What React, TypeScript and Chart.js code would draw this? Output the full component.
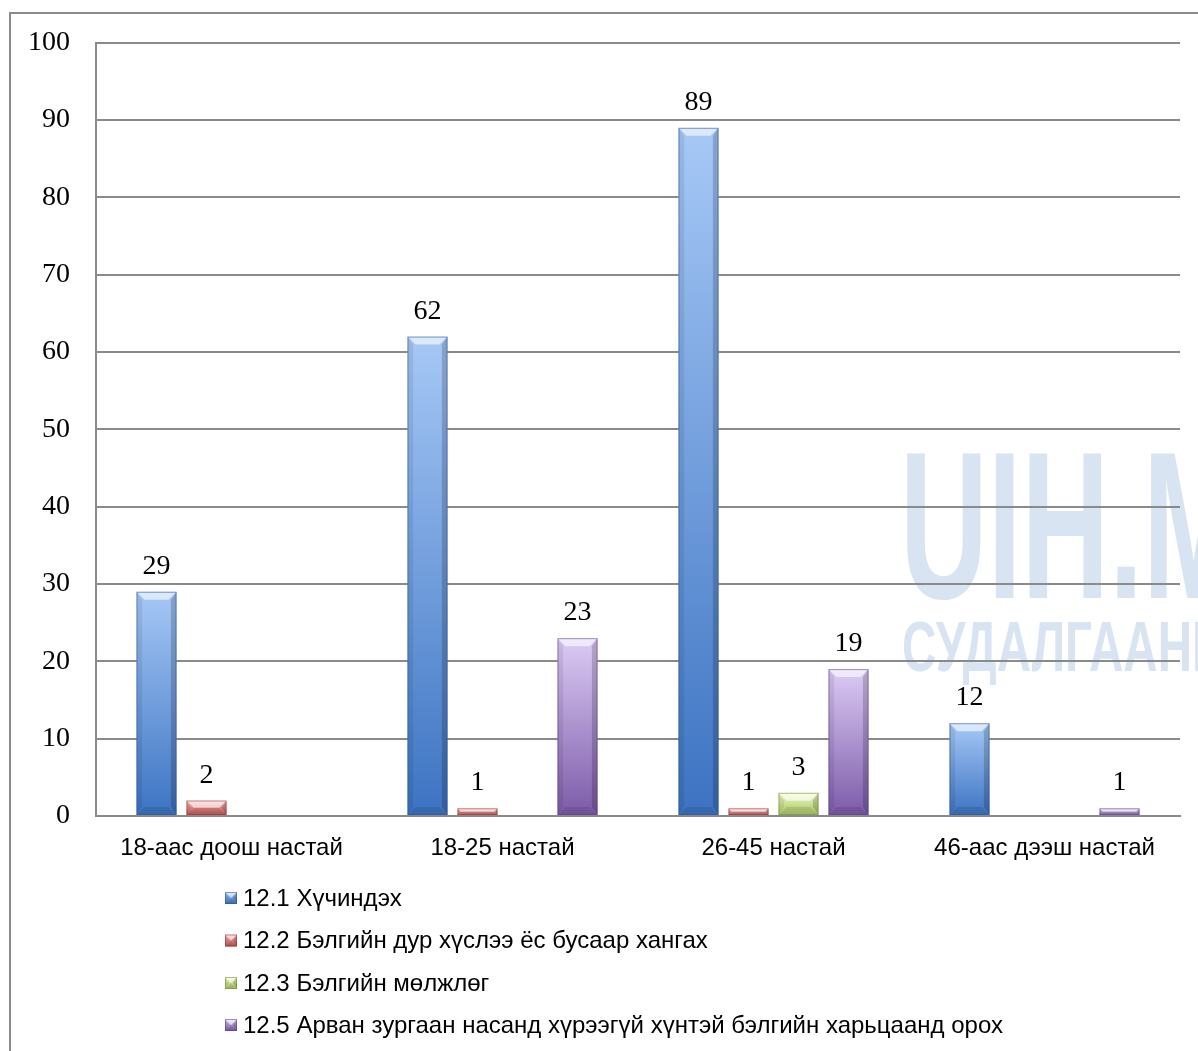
import React, { useEffect, useRef } from 'react';
import { Chart, registerables } from 'chart.js';

Chart.register(...registerables);

const categories = ['18-аас доош настай', '18-25 настай', '26-45 настай', '46-аас дээш настай'];
const seriesNames = [
  '12.1 Хүчиндэх',
  '12.2 Бэлгийн дур хүслээ ёс бусаар хангах',
  '12.3 Бэлгийн мөлжлөг',
  '12.5 Арван зургаан насанд хүрээгүй хүнтэй бэлгийн харьцаанд орох',
];
const s121 = [29, 62, 89, 12];
const s122 = [2, 1, 1, null];
const s123 = [null, null, 3, null];
const s125 = [null, 23, 19, 1];
const yMin = 0;
const yMax = 100;
const yStep = 10;
const watermark1 = 'UIH.M';
const watermark2 = 'СУДАЛГААНЫ';

const palettes = [
  { light: '#a6c8f6', base: '#3c73c2', dark: '#2d5a96' },
  { light: '#f6bcbb', base: '#c0504d', dark: '#923a38' },
  { light: '#eef8c0', base: '#a8c562', dark: '#718c3a' },
  { light: '#dccbf5', base: '#7b5aa8', dark: '#5b4384' },
];

const SERIF = "'Liberation Serif', 'DejaVu Serif', serif";
const SANS = "'Liberation Sans', Arial, sans-serif";
const GRID = '#8a8a8a';

function makeGradient(ctx: any, pal: any) {
  const chart = ctx.chart;
  const v = ctx.raw;
  if (v == null || !chart.chartArea || !chart.scales.y) return pal.base;
  const y = chart.scales.y;
  const top = y.getPixelForValue(v);
  const bottom = y.getPixelForValue(0);
  if (!isFinite(top) || !isFinite(bottom) || bottom - top < 0.5) return pal.base;
  const g = chart.ctx.createLinearGradient(0, top, 0, bottom);
  g.addColorStop(0, pal.light);
  g.addColorStop(1, pal.base);
  return g;
}

const backgroundPlugin = {
  id: 'bgFrame',
  beforeDraw(chart: any) {
    const c = chart.ctx;
    c.save();
    c.fillStyle = '#ffffff';
    c.fillRect(0, 0, chart.width, chart.height);
    // watermark
    c.fillStyle = '#d8e4f1';
    c.textBaseline = 'alphabetic';
    c.textAlign = 'left';
    c.font = `bold 210px ${SANS}`;
    const w1 = c.measureText('UIH.').width;
    const sx1 = 243 / w1;
    c.save();
    c.translate(900, 598);
    c.scale(sx1, 1);
    c.fillText(watermark1, 0, 0);
    c.restore();
    c.font = `bold 70px ${SANS}`;
    const w2 = c.measureText('СУДАЛГААН').width;
    const sx2 = 290 / w2;
    c.save();
    c.translate(902, 671);
    c.scale(sx2, 1);
    c.fillText(watermark2, 0, 0);
    c.restore();
    // outer frame
    c.strokeStyle = GRID;
    c.lineWidth = 2;
    c.strokeRect(10, 13, 1400, 1200);
    c.restore();
  },
};

function drawBevel(c: any, left: number, top: number, right: number, bottom: number, pal: any) {
  const w = right - left;
  const h = bottom - top;
  const b = Math.min(8, h / 2, w / 2);
  c.save();
  // top chamfer
  c.fillStyle = 'rgba(255,255,255,0.6)';
  c.beginPath();
  c.moveTo(left, top); c.lineTo(right, top); c.lineTo(right - b, top + b); c.lineTo(left + b, top + b); c.closePath();
  c.fill();
  // left side
  c.fillStyle = 'rgba(0,0,0,0.08)';
  c.beginPath();
  c.moveTo(left, top); c.lineTo(left + b * 0.7, top + b); c.lineTo(left + b * 0.7, bottom - b); c.lineTo(left, bottom); c.closePath();
  c.fill();
  // right side
  c.fillStyle = 'rgba(0,0,0,0.18)';
  c.beginPath();
  c.moveTo(right, top); c.lineTo(right - b * 0.7, top + b); c.lineTo(right - b * 0.7, bottom - b); c.lineTo(right, bottom); c.closePath();
  c.fill();
  // bottom
  c.fillStyle = 'rgba(0,0,0,0.10)';
  c.beginPath();
  c.moveTo(left, bottom); c.lineTo(left + b, bottom - b); c.lineTo(right - b, bottom - b); c.lineTo(right, bottom); c.closePath();
  c.fill();
  c.strokeStyle = pal.dark;
  c.globalAlpha = 0.55;
  c.lineWidth = 1;
  c.strokeRect(left + 0.5, top + 0.5, w - 1, h - 1);
  c.restore();
}

const barDecorPlugin = {
  id: 'barDecor',
  afterDatasetsDraw(chart: any) {
    const c = chart.ctx;
    chart.data.datasets.forEach((ds: any, di: number) => {
      const meta = chart.getDatasetMeta(di);
      meta.data.forEach((el: any, i: number) => {
        const v = ds.data[i];
        if (v == null) return;
        const p = el.getProps(['x', 'y', 'base', 'width'], true);
        const left = p.x - p.width / 2;
        const right = p.x + p.width / 2;
        drawBevel(c, left, Math.min(p.y, p.base), right, Math.max(p.y, p.base), palettes[di]);
        c.save();
        c.fillStyle = '#000';
        c.font = `28px ${SERIF}`;
        c.textAlign = 'center';
        c.textBaseline = 'alphabetic';
        c.fillText(String(v), p.x, p.y - 18);
        c.restore();
      });
    });
  },
};

const legendPlugin = {
  id: 'customLegend',
  afterDraw(chart: any) {
    const c = chart.ctx;
    const rows = [898, 940.5, 983, 1025];
    c.save();
    seriesNames.forEach((name, i) => {
      const cy = rows[i];
      const pal = palettes[i];
      const mx = 225, my = cy - 6, ms = 12;
      const g = c.createLinearGradient(0, my, 0, my + ms);
      g.addColorStop(0, pal.light);
      g.addColorStop(1, pal.base);
      c.fillStyle = g;
      c.fillRect(mx, my, ms, ms);
      drawBevel(c, mx, my, mx + ms, my + ms, pal);
      c.fillStyle = '#000';
      c.font = `24px ${SANS}`;
      c.textAlign = 'left';
      c.textBaseline = 'middle';
      c.fillText(name, 243, cy + 1);
    });
    c.restore();
  },
};

export default function App() {
  const ref = useRef<HTMLCanvasElement | null>(null);
  useEffect(() => {
    if (!ref.current) return;
    const seriesData = [s121, s122, s123, s125];
    const chart = new Chart(ref.current, {
      type: 'bar',
      data: {
        labels: categories,
        datasets: seriesData.map((d, i) => ({
          label: seriesNames[i],
          data: d,
          backgroundColor: (ctx: any) => makeGradient(ctx, palettes[i]),
          borderWidth: 0,
          barPercentage: 0.8,
          categoryPercentage: 200 / 271,
        })),
      },
      options: {
        responsive: false,
        animation: false,
        maintainAspectRatio: false,
        devicePixelRatio: 1,
        layout: { padding: { left: 0, right: 18, top: 42, bottom: 0 } },
        plugins: {
          legend: { display: false },
          tooltip: { enabled: false },
          title: { display: false },
        },
        scales: {
          x: {
            grid: { display: false, drawTicks: false },
            border: { display: true, color: GRID, width: 2 },
            ticks: {
              color: '#000',
              font: { family: SANS, size: 24 },
              padding: 18,
              maxRotation: 0,
              autoSkip: false,
            },
            afterFit: (scale: any) => { scale.height = 1051 - 816; },
          },
          y: {
            min: yMin,
            max: yMax,
            grid: { color: GRID, lineWidth: 2, drawTicks: false },
            border: { display: true, color: GRID, width: 2 },
            ticks: {
              stepSize: yStep,
              color: '#000',
              font: { family: SERIF, size: 28 },
              padding: 26,
            },
            afterFit: (scale: any) => { scale.width = 96; },
          },
        },
      },
      plugins: [backgroundPlugin, barDecorPlugin, legendPlugin],
    });
    return () => chart.destroy();
  }, []);
  return (
    <div style={{ position: 'absolute', left: 0, top: 0, width: 1198, height: 1051, overflow: 'hidden' }}>
      <canvas ref={ref} width={1198} height={1051} style={{ display: 'block', width: 1198, height: 1051 }} />
    </div>
  );
}
